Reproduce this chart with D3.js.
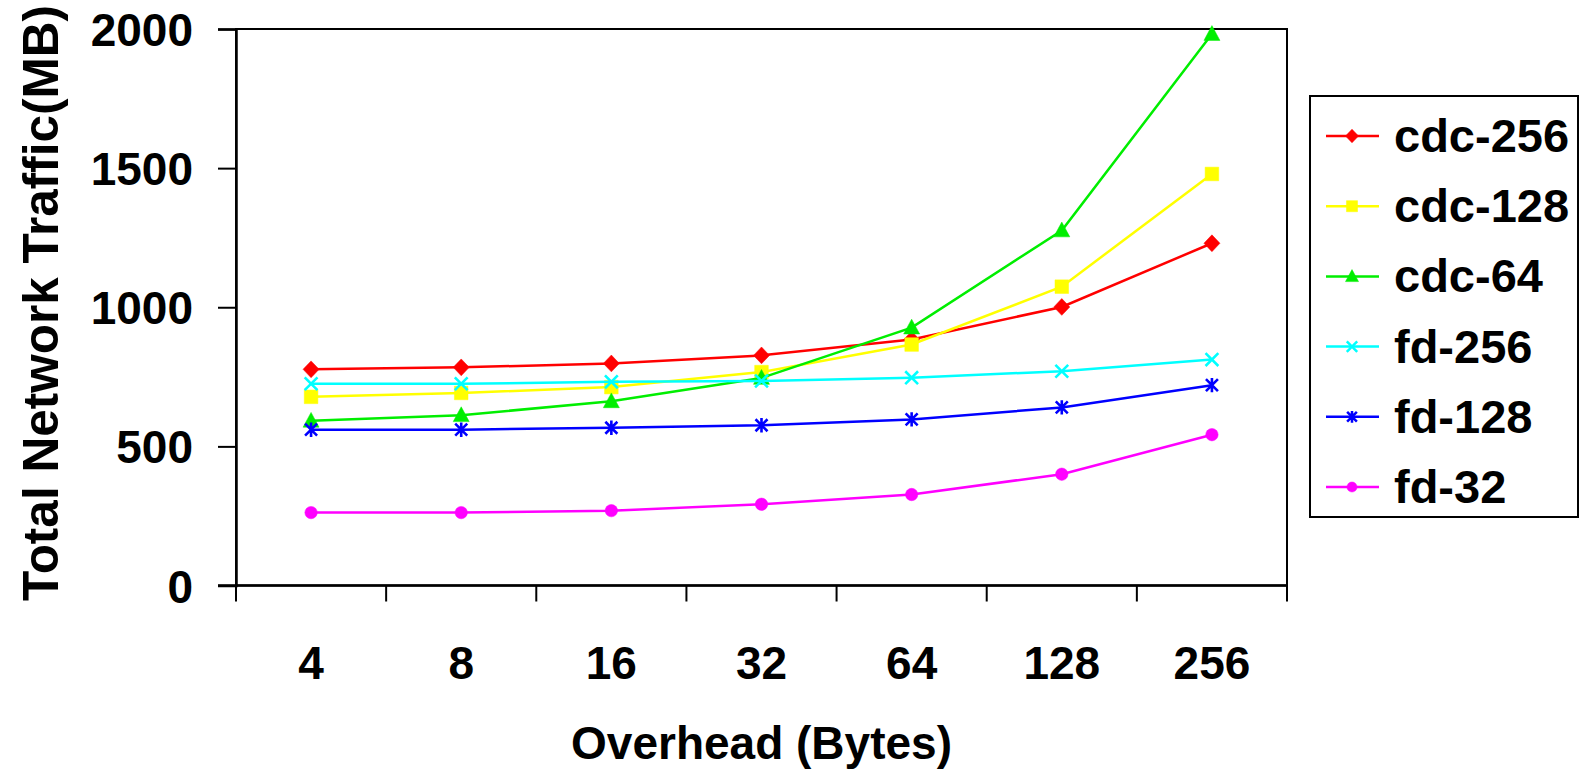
<!DOCTYPE html>
<html>
<head>
<meta charset="utf-8">
<script src="https://cdn.jsdelivr.net/npm/d3@7"></script>
<style>
body{margin:0;background:#fff;}
text{font-family:"Liberation Sans",Arial,sans-serif;font-weight:bold;fill:#000;}
</style>
</head>
<body>
<script>
var w=1583,h=772;
var categories=["4","8","16","32","64","128","256"];
var seriesNames=["cdc-256","cdc-128","cdc-64","fd-256","fd-128","fd-32"];
var cdc256=[777,784,798,827,884,1001,1230];
var cdc128=[678,692,713,767,866,1074,1479];
var cdc64=[592,612,662,746,927,1276,1982];
var fd256=[725,725,732,735,747,770,812];
var fd128=[560,560,567,576,597,640,720];
var fd32=[262,262,269,292,327,400,542];
var yTicks=[0,500,1000,1500,2000];
var colors=["#ff0000","#ffff00","#00ee00","#00ffff","#0000ff","#ff00ff"];
var shapes=["diamond","square","triangle","x","star","circle"];

var series=seriesNames.map(function(n,i){
  return {name:n,values:[cdc256,cdc128,cdc64,fd256,fd128,fd32][i],color:colors[i],shape:shapes[i]};
});

var pLeft=236,pRight=1287,pTop=29,pBottom=585.5;
var svg=d3.select('body').append('svg').attr('width',w).attr('height',h);

var x=d3.scaleBand().domain(categories).range([pLeft,pRight]);
var y=d3.scaleLinear().domain([0,2000]).range([pBottom,pTop]);

// marker path
function marker(shape,s){
  var r=s/2;
  if(shape=="diamond") return "M0,"+(-r*1.05)+"L"+r+",0L0,"+(r*1.05)+"L"+(-r)+",0Z";
  if(shape=="square") return "M"+(-r*0.85)+","+(-r*0.85)+"h"+(r*1.7)+"v"+(r*1.7)+"h"+(-r*1.7)+"Z";
  if(shape=="triangle") return "M0,"+(-r*1.05)+"L"+r+","+(r*0.8)+"L"+(-r)+","+(r*0.8)+"Z";
  if(shape=="circle") return d3.symbol().type(d3.symbolCircle).size(Math.PI*r*r*0.6)();
  if(shape=="x") return "M"+(-r*0.8)+","+(-r*0.8)+"L"+(r*0.8)+","+(r*0.8)+"M"+(r*0.8)+","+(-r*0.8)+"L"+(-r*0.8)+","+(r*0.8);
  return "M"+(-r*0.75)+","+(-r*0.75)+"L"+(r*0.75)+","+(r*0.75)+"M"+(r*0.75)+","+(-r*0.75)+"L"+(-r*0.75)+","+(r*0.75)+"M0,"+(-r*0.9)+"V"+(r*0.9);
}
function isStroke(shape){return shape=="x"||shape=="star";}

// frame
svg.append('rect').attr('x',pLeft).attr('y',pTop).attr('width',pRight-pLeft).attr('height',pBottom-pTop)
  .attr('fill','none').attr('stroke','#000').attr('stroke-width',2);

// y axis
var yAxis=d3.axisLeft(y).tickValues(yTicks).tickFormat(d3.format('d')).tickSize(18).tickPadding(25);
var yg=svg.append('g').attr('transform','translate('+pLeft+',0)').call(yAxis);
yg.select('.domain').attr('stroke-width',2.5);
yg.selectAll('.tick line').attr('stroke-width',2);
yg.selectAll('.tick text').style('font-size','46px').style('font-family','"Liberation Sans",Arial,sans-serif').attr('dy','0.36em');

// x axis
var xg=svg.append('g').attr('transform','translate(0,'+pBottom+')');
xg.append('line').attr('x1',pLeft-18).attr('x2',pRight).attr('y1',0).attr('y2',0).attr('stroke','#000').attr('stroke-width',2.5);
var edges=categories.map(function(c){return x(c);}).concat([pRight]);
xg.selectAll('.xt').data(edges).enter().append('line')
  .attr('x1',function(d){return d;}).attr('x2',function(d){return d;})
  .attr('y1',0).attr('y2',16).attr('stroke','#000').attr('stroke-width',2);
xg.selectAll('.xl').data(categories).enter().append('text')
  .attr('x',function(d){return x(d)+x.bandwidth()/2;}).attr('y',93)
  .attr('text-anchor','middle').style('font-size','46px').text(function(d){return d;});

// titles
svg.append('text').attr('x',(pLeft+pRight)/2).attr('y',759).attr('text-anchor','middle')
  .style('font-size','46px').text('Overhead (Bytes)');
svg.append('text').attr('transform','translate(58,303) rotate(-90)').attr('text-anchor','middle')
  .style('font-size','49.5px').text('Total Network Traffic(MB)');

// lines
var line=d3.line().x(function(d,i){return x(categories[i])+x.bandwidth()/2;}).y(function(d){return y(d);});
series.forEach(function(s){
  var g=svg.append('g');
  g.append('path').attr('d',line(s.values)).attr('fill','none').attr('stroke',s.color).attr('stroke-width',2.5);
  g.selectAll('path.m').data(s.values).enter().append('path').attr('class','m')
    .attr('d',marker(s.shape,16))
    .attr('transform',function(d,i){return 'translate('+(x(categories[i])+x.bandwidth()/2)+','+y(d)+')';})
    .attr('fill',isStroke(s.shape)?'none':s.color)
    .attr('stroke',s.color).attr('stroke-width',isStroke(s.shape)?2.6:0.5);
});

// legend
var lg=svg.append('g');
lg.append('rect').attr('x',1310).attr('y',96).attr('width',268).attr('height',421)
  .attr('fill','#fff').attr('stroke','#000').attr('stroke-width',2);
var ly=d3.scalePoint().domain(seriesNames).range([136,487]);
series.forEach(function(s){
  var yy=ly(s.name);
  lg.append('line').attr('x1',1326).attr('x2',1379).attr('y1',yy).attr('y2',yy).attr('stroke',s.color).attr('stroke-width',2.5);
  lg.append('path').attr('d',marker(s.shape,13)).attr('transform','translate(1352,'+yy+')')
    .attr('fill',isStroke(s.shape)?'none':s.color).attr('stroke',s.color).attr('stroke-width',isStroke(s.shape)?2.5:0.5);
  lg.append('text').attr('x',1394).attr('y',yy+16).style('font-size','47px').text(s.name);
});
</script>
</body>
</html>
